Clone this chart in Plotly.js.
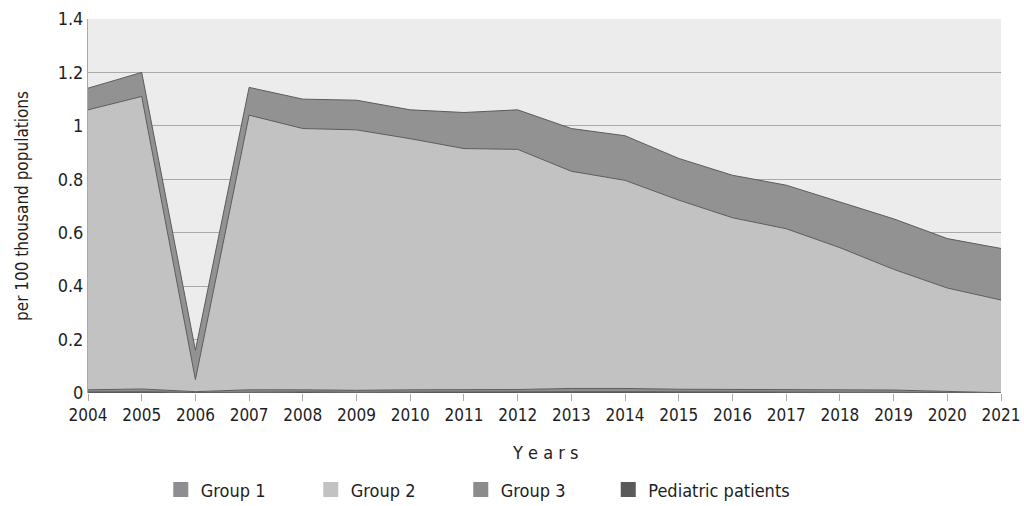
<!DOCTYPE html>
<html>
<head>
<meta charset="utf-8">
<script src="https://cdn.plot.ly/plotly-3.0.1.min.js"></script>
<style>html,body{margin:0;padding:0;background:#fff}#chart{width:1024px;height:506px}</style>
</head>
<body>
<div id="chart"></div>
<script>
const years = [2004,2005,2006,2007,2008,2009,2010,2011,2012,2013,2014,2015,2016,2017,2018,2019,2020,2021];
const pediatric = [0.004,0.005,0.002,0.004,0.004,0.003,0.004,0.004,0.004,0.005,0.005,0.004,0.004,0.004,0.003,0.003,0.002,0.000];
const group1 = [0.008,0.010,0.003,0.008,0.008,0.007,0.008,0.009,0.009,0.012,0.012,0.010,0.010,0.010,0.009,0.008,0.005,0.001];
const group2 = [1.048,1.095,0.045,1.028,0.978,0.975,0.940,0.902,0.899,0.813,0.779,0.708,0.642,0.601,0.532,0.452,0.386,0.347];
const group3 = [0.081,0.090,0.110,0.104,0.110,0.111,0.108,0.135,0.148,0.160,0.167,0.156,0.159,0.163,0.171,0.189,0.185,0.193];
const legendNames = ['Group 1','Group 2','Group 3','Pediatric patients'];
const legendColors = ['#8e8e92','#c2c2c2','#8c8c8c','#5a5a5a'];

const font = "'DejaVu Sans Condensed', 'Liberation Sans Narrow', sans-serif";
const lineCol = '#5c5c5c';
function tr(name, y, fill){
  return {x: years, y: y, name: name, type: 'scatter', mode: 'lines', stackgroup: 'one',
    line: {color: lineCol, width: 1}, fillcolor: fill, showlegend: false};
}
const data = [
  tr('Pediatric patients', pediatric, '#5a5a5a'),
  tr('Group 1', group1, '#8e8e92'),
  tr('Group 2', group2, '#c2c2c2'),
  tr('Group 3', group3, '#929292')
];
legendNames.forEach((n, i) => {
  data.push({x: [null], y: [null], name: n, type: 'scatter', mode: 'markers',
    marker: {symbol: 'square', size: 15, color: legendColors[i]}, showlegend: true,
    legend: i < 3 ? 'legend' : 'legend2'});
});
const legFont = {size: 18, family: font, color: '#1e1e1e'};
const layout = {
  width: 1024, height: 506,
  margin: {l: 88, r: 23, t: 19, b: 113},
  paper_bgcolor: '#ffffff', plot_bgcolor: '#ececec',
  font: {family: font, color: '#1e1e1e', size: 17},
  showlegend: true,
  legend: {orientation: 'h', traceorder: 'normal', xref: 'container', yref: 'container',
    x: 0.157, xanchor: 'left', y: 0.032, yanchor: 'middle',
    font: legFont, entrywidth: 105, itemwidth: 30},
  legend2: {orientation: 'h', xref: 'container', yref: 'container',
    x: 0.594, xanchor: 'left', y: 0.032, yanchor: 'middle',
    font: legFont, itemwidth: 30},
  xaxis: {range: [2004, 2021], tickmode: 'array', tickvals: years, ticktext: years.map(String),
    showgrid: false, zeroline: false, ticks: 'outside', ticklen: 7, tickcolor: '#aaaaaa',
    showline: false, tickfont: {size: 17, family: font}, automargin: false},
  yaxis: {range: [0, 1.4], tickvals: [0,0.2,0.4,0.6,0.8,1,1.2,1.4], ticktext: ['0','0.2','0.4','0.6','0.8','1','1.2','1.4'],
    showgrid: true, gridcolor: '#a9a9a9', gridwidth: 1, zeroline: false, automargin: false,
    showline: true, linecolor: '#aaaaaa', ticks: '', ticklen: 0, tickfont: {size: 18, family: font},
    title: {text: 'per 100 thousand populations', font: {size: 17, family: font}, standoff: 24}},
  annotations: [{text: 'Y e a r s', xref: 'paper', yref: 'paper', x: 0.5, y: -0.16, yanchor: 'middle',
    showarrow: false, font: {size: 18, family: font, color: '#1e1e1e'}}]
};
Plotly.newPlot('chart', data, layout, {displayModeBar: false, staticPlot: true});
</script>
</body>
</html>
